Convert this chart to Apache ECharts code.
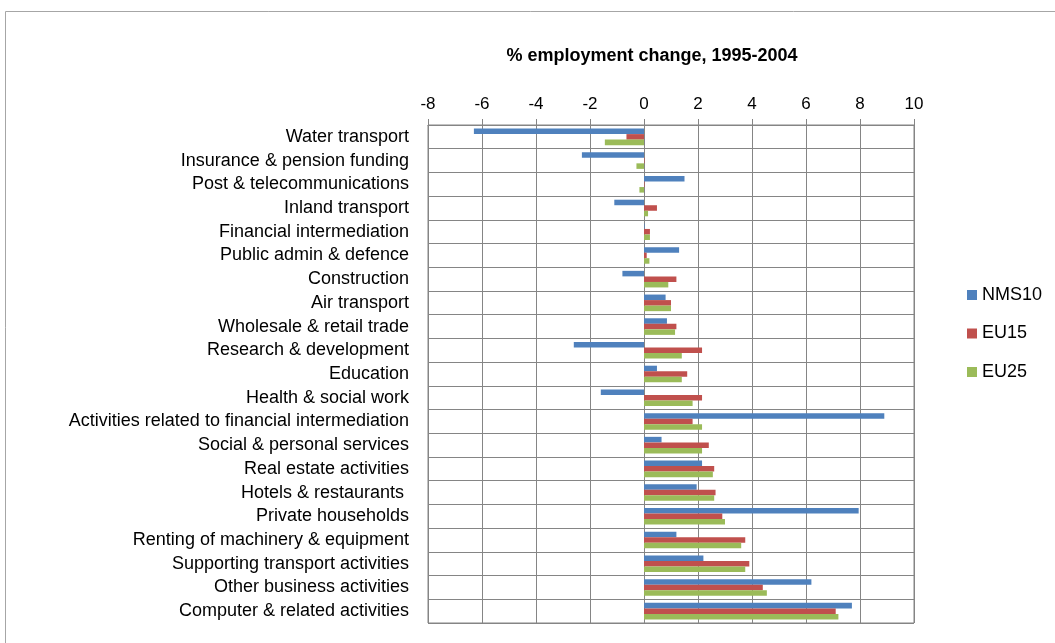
<!DOCTYPE html>
<html>
<head>
<meta charset="utf-8">
<title>% employment change, 1995-2004</title>
<script src="https://cdn.jsdelivr.net/npm/echarts@6/dist/echarts.min.js"></script>
<style>
  html, body { margin: 0; padding: 0; background: #ffffff; }
  #chart { width: 1055px; height: 643px; }
</style>
</head>
<body>
<div id="chart"></div>
<script>
// Industries, listed top to bottom
const categories = [
  'Water transport',
  'Insurance & pension funding',
  'Post & telecommunications',
  'Inland transport',
  'Financial intermediation',
  'Public admin & defence',
  'Construction',
  'Air transport',
  'Wholesale & retail trade',
  'Research & development',
  'Education',
  'Health & social work',
  'Activities related to financial intermediation',
  'Social & personal services',
  'Real estate activities',
  'Hotels & restaurants ',
  'Private households',
  'Renting of machinery & equipment',
  'Supporting transport activities',
  'Other business activities',
  'Computer & related activities'
];

// % employment change 1995-2004 per region
const nms10 = [-6.3, -2.3, 1.5, -1.1, 0.02, 1.3, -0.8, 0.8, 0.85, -2.6, 0.48, -1.6, 8.9, 0.65, 2.15, 1.95, 7.95, 1.2, 2.2, 6.2, 7.7];
const eu15  = [-0.65, 0.02, 0.02, 0.48, 0.22, 0.1, 1.2, 1.0, 1.2, 2.15, 1.6, 2.15, 1.8, 2.4, 2.6, 2.65, 2.9, 3.75, 3.9, 4.4, 7.1];
const eu25  = [-1.45, -0.28, -0.17, 0.15, 0.22, 0.2, 0.9, 1.0, 1.15, 1.4, 1.4, 1.8, 2.15, 2.15, 2.55, 2.6, 3.0, 3.6, 3.75, 4.55, 7.2];

const seriesNames = ['NMS10', 'EU15', 'EU25'];
const seriesColors = ['#4F81BD', '#C0504D', '#9BBB59'];

const FONT = '"Liberation Sans", Arial, sans-serif';
const GRID_COLOR = '#858585';

const chart = echarts.init(document.getElementById('chart'), null, { renderer: 'canvas' });

chart.setOption({
  backgroundColor: '#ffffff',
  animation: false,
  graphic: [{
    type: 'rect',
    silent: true,
    shape: { x: 5.5, y: 11.5, width: 2000, height: 2000 },
    style: { fill: 'none', stroke: '#a6a6a6', lineWidth: 1 }
  }],
  title: {
    text: '% employment change, 1995-2004',
    left: 652,
    top: 47,
    textAlign: 'center',
    padding: 0,
    textStyle: { fontFamily: FONT, fontSize: 18, fontWeight: 'bold', color: '#000000' }
  },
  legend: {
    orient: 'vertical',
    left: 962,
    top: 281,
    itemWidth: 10,
    itemHeight: 10,
    itemGap: 20.5,
    icon: 'rect',
    data: seriesNames,
    textStyle: { fontFamily: FONT, fontSize: 18, color: '#000000' }
  },
  grid: {
    left: 428,
    top: 125,
    width: 486,
    height: 498,
    show: true,
    borderColor: GRID_COLOR,
    borderWidth: 1,
    backgroundColor: 'transparent'
  },
  xAxis: {
    type: 'value',
    position: 'top',
    min: -8,
    max: 10,
    interval: 2,
    axisLine: { show: true, lineStyle: { color: GRID_COLOR, width: 1 } },
    axisTick: { show: true, inside: false, length: 6, lineStyle: { color: GRID_COLOR } },
    splitLine: { show: true, lineStyle: { color: GRID_COLOR, width: 1 } },
    axisLabel: { fontFamily: FONT, fontSize: 17, color: '#000000', margin: 12 }
  },
  yAxis: {
    type: 'category',
    inverse: true,
    data: categories,
    axisLine: { show: true, lineStyle: { color: GRID_COLOR, width: 1 } },
    axisTick: { show: false },
    splitLine: { show: true, lineStyle: { color: GRID_COLOR, width: 1 } },
    axisLabel: {
      fontFamily: FONT, fontSize: 18, color: '#000000', margin: 19, interval: 0,
      padding: [4, 0, 0, 0]
    }
  },
  series: [nms10, eu15, eu25].map((vals, i) => ({
    name: seriesNames[i],
    type: 'bar',
    data: vals,
    barGap: '0%',
    barCategoryGap: '30%',
    itemStyle: { color: seriesColors[i] }
  }))
});
</script>
</body>
</html>
